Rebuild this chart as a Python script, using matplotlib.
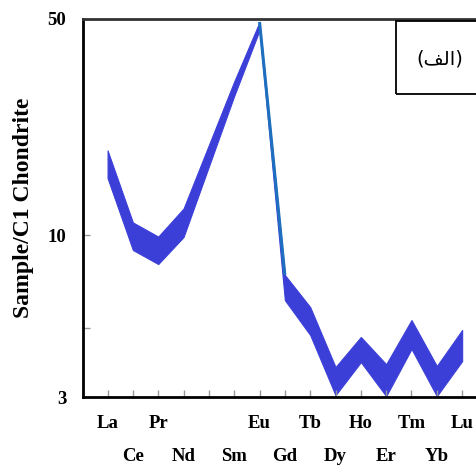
import numpy as np
import matplotlib.pyplot as plt
from matplotlib.patches import Rectangle
from matplotlib.ticker import FixedLocator, NullFormatter

# REE pattern envelope (chondrite normalised), Pm not measured
elements = ['La', 'Ce', 'Pr', 'Nd', 'Pm', 'Sm', 'Eu', 'Gd', 'Tb', 'Dy', 'Ho', 'Er', 'Tm', 'Yb', 'Lu']
used = ['La', 'Ce', 'Pr', 'Nd', 'Sm', 'Eu', 'Gd', 'Tb', 'Dy', 'Ho', 'Er', 'Tm', 'Yb', 'Lu']
upper = [18.8, 11.0, 9.9, 12.2, 31.4, 48.9, 7.44, 5.86, 3.75, 4.69, 3.83, 5.32, 3.78, 4.94]
lower = [15.3, 8.96, 8.07, 9.87, 28.2, 46.0, 6.17, 4.76, 3.04, 3.89, 3.02, 4.29, 3.02, 3.92]
y_ticks = [3, 10, 50]
panel_label = '(\ufed2\ufedf\ufe8d)'  # (الف) in presentation forms

x = np.array([elements.index(e) for e in used])
upper = np.array(upper)
lower = np.array(lower)

plt.rcParams['font.family'] = 'Liberation Serif'
plt.rcParams['font.weight'] = 'bold'

fig = plt.figure(figsize=(4.77, 4.65), dpi=100)
ax = fig.add_axes([0.174, 0.1462, 0.84, 0.813])

band = '#3b3fd8'
ax.fill_between(x, lower, upper, color=band, linewidth=0.8, edgecolor=band)
i_eu = used.index('Eu')
ax.plot(x[i_eu:i_eu + 2], upper[i_eu:i_eu + 2], color='#1f6fbf', lw=2.2, solid_capstyle='butt')

ax.set_yscale('log')
ax.set_ylim(3, 50)
ax.set_xlim(-0.97, 14.85)

ax.yaxis.set_major_locator(FixedLocator(y_ticks))
ax.set_yticklabels([str(v) for v in y_ticks])
ax.yaxis.set_minor_locator(FixedLocator([5]))
ax.yaxis.set_minor_formatter(NullFormatter())

top_row = list(range(0, 15, 2))
bot_row = list(range(1, 15, 2))
ax.xaxis.set_major_locator(FixedLocator(top_row))
ax.set_xticklabels(['' if elements[i] == 'Pm' else elements[i] for i in top_row])
ax.xaxis.set_minor_locator(FixedLocator(bot_row))
ax.set_xticklabels([elements[i] for i in bot_row], minor=True)

ax.tick_params(axis='x', which='both', direction='in', length=5, color='#999999', width=1, labelsize=13.5)
ax.tick_params(axis='x', which='major', pad=13)
ax.tick_params(axis='x', which='minor', pad=37)
ax.tick_params(axis='y', which='both', direction='in', length=5, color='#999999', width=1, labelsize=13.5, pad=12)

for s in ['left', 'bottom']:
    ax.spines[s].set_linewidth(2)
    ax.spines[s].set_color('black')
ax.spines['top'].set_linewidth(2)
ax.spines['top'].set_color('#333333')
ax.spines['right'].set_visible(False)

ax.set_ylabel('Sample/C1 Chondrite', fontsize=17, fontweight='bold', labelpad=10)

fig.patches.append(Rectangle((396 / 477, 1 - 94 / 465), 90 / 477, 73 / 465,
                             transform=fig.transFigure, fill=False, edgecolor='black', lw=1.3))
fig.text(440 / 477, 1 - 59 / 465, panel_label, family=['DejaVu Sans'], fontweight='normal',
         fontsize=14, ha='center', va='center')

fig.savefig('out.png', dpi=100)
